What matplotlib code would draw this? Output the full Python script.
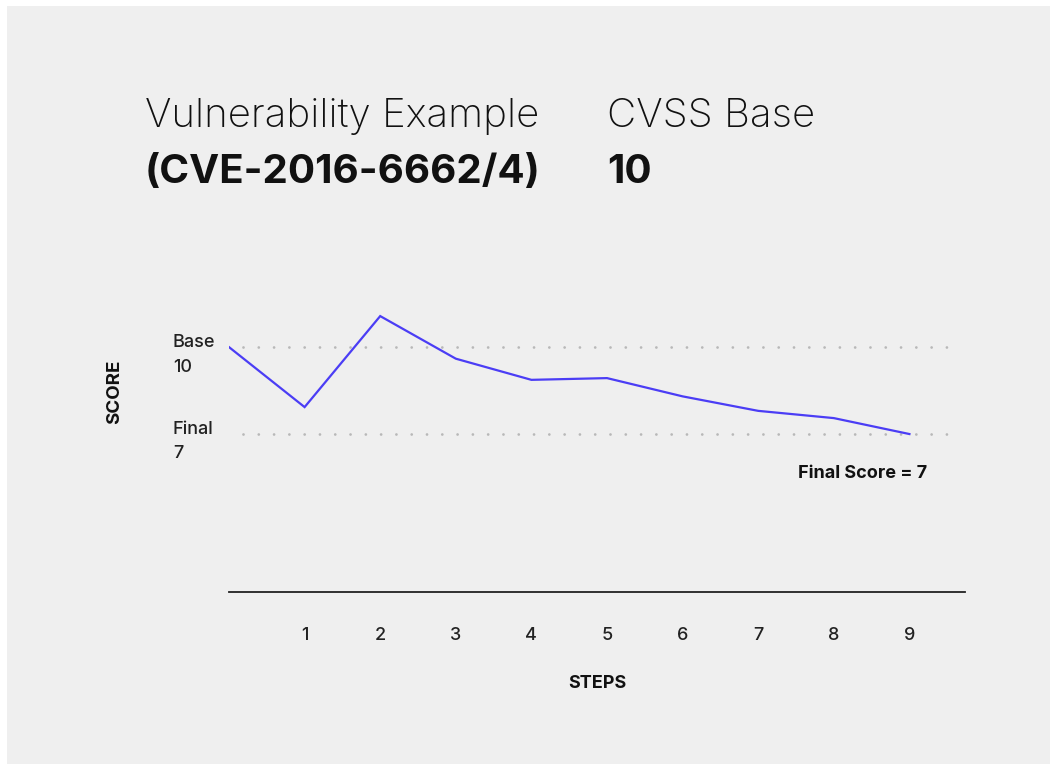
import matplotlib
matplotlib.use("Agg")
import matplotlib.pyplot as plt
from matplotlib.patches import Rectangle

plt.rcParams['font.family'] = ['Inter', 'DejaVu Sans']
plt.rcParams['lines.scale_dashes'] = False

# data
steps = [0, 1, 2, 3, 4, 5, 6, 7, 8, 9]
scores = [10, 7.93, 11.07, 9.6, 8.87, 8.93, 8.3, 7.8, 7.55, 7.0]
tick_steps = [1, 2, 3, 4, 5, 6, 7, 8, 9]
base_score = 10
final_score = 7

bg = '#efefef'
line_color = '#4b3df5'
small = 13

fig = plt.figure(figsize=(10.5, 7.66), dpi=100)
fig.patch.set_facecolor('white')
fig.patches.append(Rectangle((7 / 1050, 0.003), 1, 1 - 6 / 766 - 0.003,
                             transform=fig.transFigure, facecolor=bg,
                             edgecolor='none', zorder=-10))

# titles
fig.text(145 / 1050, 1 - 127 / 766, 'Vulnerability Example', fontsize=29,
         fontweight='light', va='baseline', ha='left', color='#111111')
fig.text(145 / 1050, 1 - 183 / 766, '(CVE-2016-6662/4)', fontsize=29,
         fontweight='bold', va='baseline', ha='left', color='#111111')
fig.text(607 / 1050, 1 - 127 / 766, 'CVSS Base', fontsize=29,
         fontweight='light', va='baseline', ha='left', color='#111111')
fig.text(607 / 1050, 1 - 183 / 766, str(base_score), fontsize=29,
         fontweight='bold', va='baseline', ha='left', color='#111111')

ax = fig.add_axes([229 / 1050, 1 - 592 / 766, 736 / 1050, 302 / 766])
ax.set_facecolor('none')
ax.set_xlim(0, 9.735)
ax.set_ylim(1.55, 11.97)

for s in ['top', 'right', 'left']:
    ax.spines[s].set_visible(False)
ax.spines['bottom'].set_color('#222222')
ax.spines['bottom'].set_linewidth(1.3)

# dotted reference lines
for yv in [base_score, final_score]:
    ax.plot([0.185, 9.63], [yv, yv], color='#b8b8b8', lw=2.0,
            linestyle=(0, (0.01, 11)), dash_capstyle='round', zorder=1)

ax.plot(steps, scores, color=line_color, lw=1.6, zorder=3,
        solid_joinstyle='miter')

ax.set_xticks(tick_steps)
ax.set_xticklabels([str(t) for t in tick_steps], fontsize=small,
                   fontweight='medium', color='#222222')
ax.tick_params(axis='x', length=0, pad=25)
ax.set_yticks([])

ax.set_xlabel('STEPS', fontsize=small, fontweight='bold', color='#111111')
ax.xaxis.set_label_coords((597 - 229) / 736, -(675 - 592) / 302)
fig.text(115 / 1050, 1 - 392 / 766, 'SCORE', rotation=90, fontsize=13.5,
         fontweight='bold', ha='center', va='center', color='#111111')

# y labels
fig.text(173 / 1050, 1 - 343 / 766, 'Base', fontsize=small, fontweight='medium',
         ha='left', va='center', color='#222222')
fig.text(173 / 1050, 1 - 367 / 766, str(base_score), fontsize=small,
         fontweight='medium', ha='left', va='center', color='#222222')
fig.text(173 / 1050, 1 - 430 / 766, 'Final', fontsize=small, fontweight='medium',
         ha='left', va='center', color='#222222')
fig.text(173 / 1050, 1 - 453 / 766, str(final_score), fontsize=small,
         fontweight='medium', ha='left', va='center', color='#222222')

fig.text(927 / 1050, 1 - 473 / 766, 'Final Score = %d' % final_score,
         fontsize=small, fontweight='bold', ha='right', va='center',
         color='#111111')

fig.savefig('out.png', dpi=100, facecolor='white')
